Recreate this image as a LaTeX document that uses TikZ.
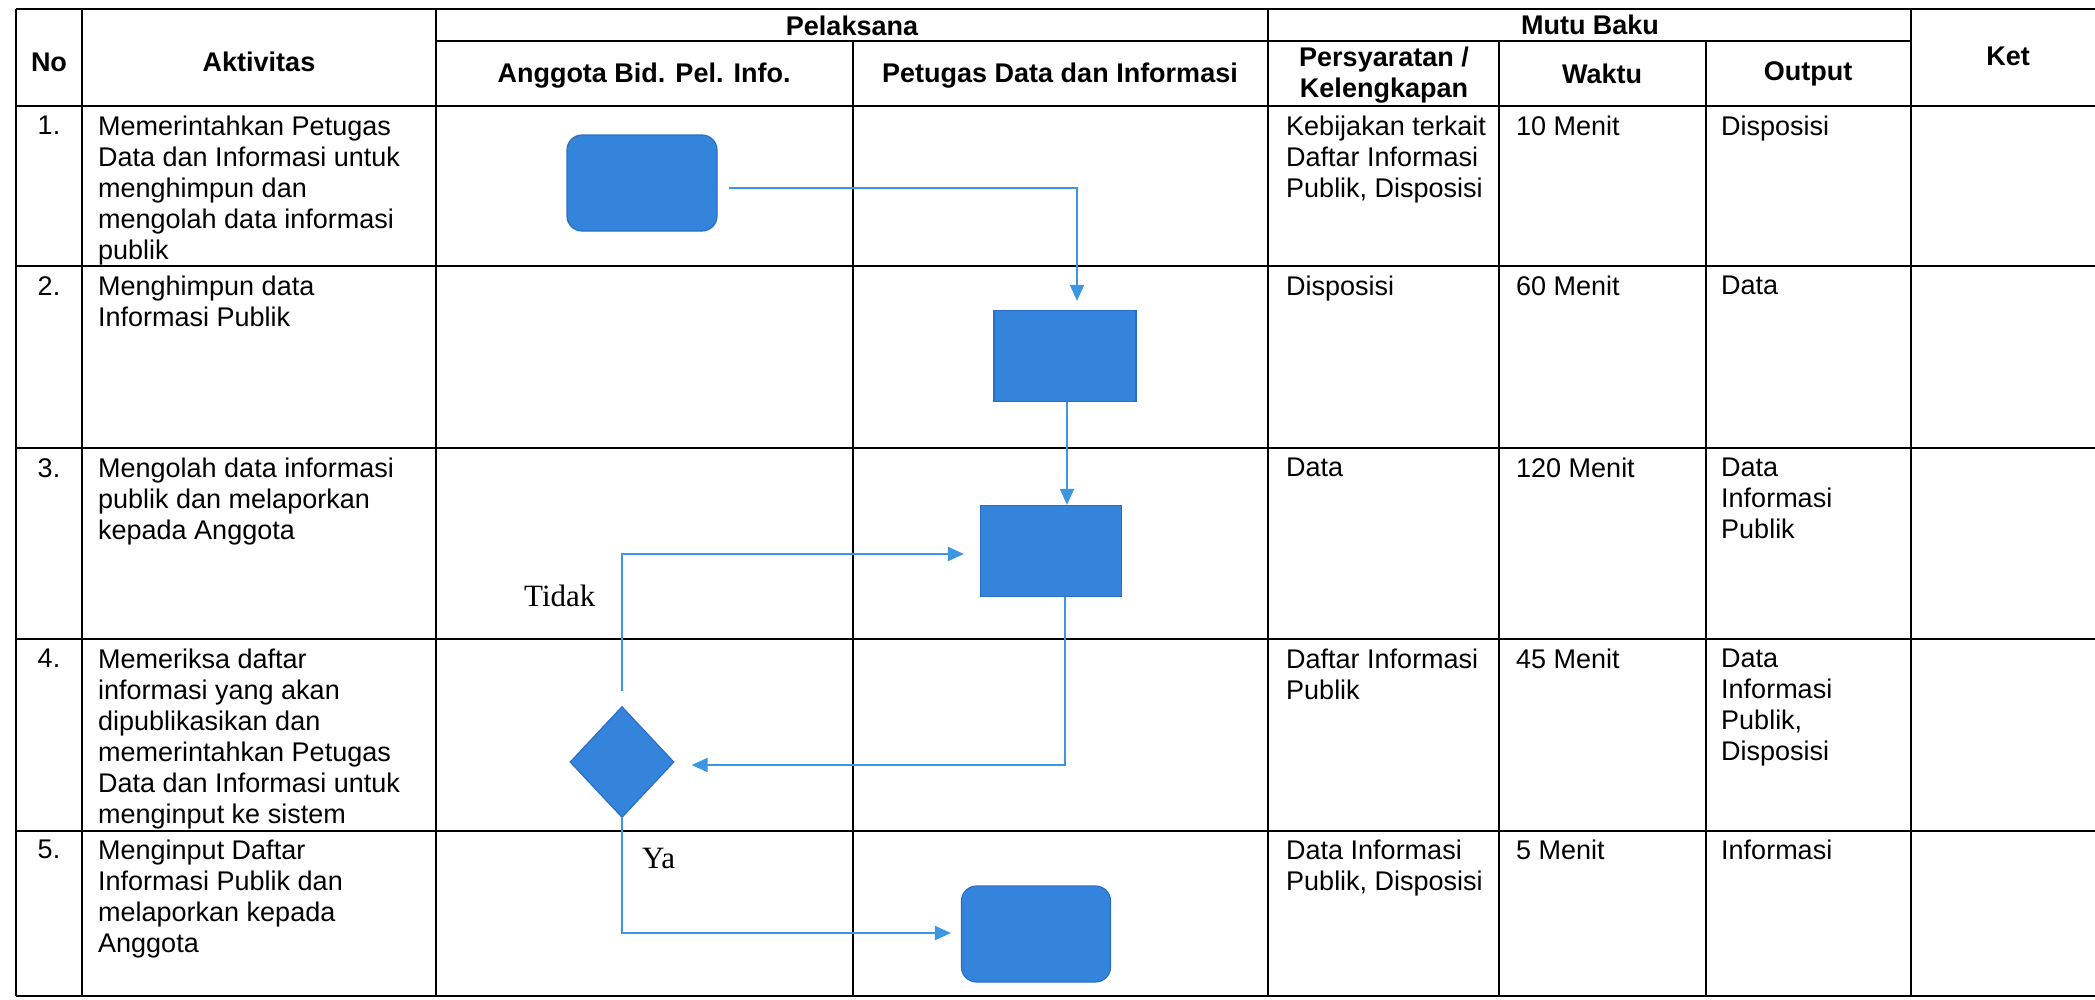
\documentclass[tikz,border=0pt]{standalone}
\usepackage{fontspec}
\setmainfont{Liberation Sans}
\newfontfamily\tnr{Liberation Serif}
\usetikzlibrary{arrows.meta,shapes.geometric}
\definecolor{shapefill}{HTML}{3384DA}
\definecolor{shapeline}{HTML}{2A6EC8}
\definecolor{arrowblue}{HTML}{3D96E2}
\tikzset{
  gridline/.style={line width=2pt, black},
  hdr/.style={font=\fontsize{27}{31}\selectfont\bfseries, align=center, inner sep=0pt},
  cell/.style={anchor=north west, align=left, inner sep=0pt, font=\fontsize{27}{31}\selectfont},
  numcell/.style={anchor=north, inner sep=0pt, font=\fontsize{27}{31}\selectfont},
  procbox/.style={rectangle, draw=shapeline, fill=shapefill, line width=1.2pt, inner sep=0pt},
  termbox/.style={procbox, rounded corners=15pt},
  decbox/.style={diamond, draw=shapeline, fill=shapefill, line width=1.2pt, inner sep=0pt, aspect=0.94},
  arr/.style={draw=arrowblue, line width=2pt, -{Triangle[length=16pt,width=14pt]}},
  lbl/.style={font=\tnr\fontsize{31}{35}\selectfont, inner sep=0pt, anchor=base west},
}
\begin{document}
\begin{tikzpicture}[x=1pt,y=-1pt]
\useasboundingbox (0,0) rectangle (2095,999);
% ---------- table grid ----------
\draw[gridline] (16,9) -- (2095,9);
\draw[gridline] (436,41) -- (1911,41);
\foreach \yy in {106,266,448,639,831,996} \draw[gridline] (16,\yy) -- (2095,\yy);
\foreach \xx in {16,82,436,1268,1911} \draw[gridline] (\xx,9) -- (\xx,996);
\foreach \xx in {853,1499,1706} \draw[gridline] (\xx,41) -- (\xx,996);
% ---------- headers ----------
\node[hdr] (hNo) at (49,62) {No};
\node[hdr] (hAkt) at (259,62) {Aktivitas};
\node[hdr] (hPel) at (852,26) {Pelaksana};
\node[hdr] (hAng) at (644,76) {Anggota Bid. Pel. Info.};
\node[hdr] (hPet) at (1060,76) {Petugas Data dan Informasi};
\node[hdr] (hMutu) at (1590,25) {Mutu Baku};
\node[hdr] (hPers) at (1384,75) {Persyaratan /\\Kelengkapan};
\node[hdr] (hWak) at (1602,74) {Waktu};
\node[hdr] (hOut) at (1808,74) {Output};
\node[hdr] (hKet) at (2008,56) {Ket};
% ---------- row 1 ----------
\node[numcell] (n1) at (49,116) {1.};
\node[cell] (a1) at (98,116) {Memerintahkan Petugas\\Data dan Informasi untuk\\menghimpun dan\\mengolah data informasi\\publik};
\node[cell] (p1) at (1286,116) {Kebijakan terkait\\Daftar Informasi\\Publik, Disposisi};
\node[cell] (w1) at (1516,116) {10 Menit};
\node[cell] (o1) at (1721,116) {Disposisi};
% ---------- row 2 ----------
\node[numcell] (n2) at (49,276) {2.};
\node[cell] (a2) at (98,276) {Menghimpun data\\Informasi Publik};
\node[cell] (p2) at (1286,276) {Disposisi};
\node[cell] (w2) at (1516,276) {60 Menit};
\node[cell] (o2) at (1721,276) {Data};
% ---------- row 3 ----------
\node[numcell] (n3) at (49,458) {3.};
\node[cell] (a3) at (98,458) {Mengolah data informasi\\publik dan melaporkan\\kepada Anggota};
\node[cell] (p3) at (1286,458) {Data};
\node[cell] (w3) at (1516,458) {120 Menit};
\node[cell] (o3) at (1721,458) {Data\\Informasi\\Publik};
% ---------- row 4 ----------
\node[numcell] (n4) at (49,649) {4.};
\node[cell] (a4) at (98,649) {Memeriksa daftar\\informasi yang akan\\dipublikasikan dan\\memerintahkan Petugas\\Data dan Informasi untuk\\menginput ke sistem};
\node[cell] (p4) at (1286,649) {Daftar Informasi\\Publik};
\node[cell] (w4) at (1516,649) {45 Menit};
\node[cell] (o4) at (1721,649) {Data\\Informasi\\Publik,\\Disposisi};
% ---------- row 5 ----------
\node[numcell] (n5) at (49,840) {5.};
\node[cell] (a5) at (98,840) {Menginput Daftar\\Informasi Publik dan\\melaporkan kepada\\Anggota};
\node[cell] (p5) at (1286,840) {Data Informasi\\Publik, Disposisi};
\node[cell] (w5) at (1516,840) {5 Menit};
\node[cell] (o5) at (1721,840) {Informasi};
% ---------- flow shapes ----------
\node[termbox, minimum width=150pt, minimum height=96pt] (b1) at (642,183) {};
\node[procbox, minimum width=142pt, minimum height=91pt] (b2) at (1065,356) {};
\node[procbox, minimum width=141pt, minimum height=91pt] (b3) at (1051,551) {};
\node[decbox, minimum width=104pt, minimum height=111pt] (d4) at (622,762) {};
\node[termbox, minimum width=149pt, minimum height=96pt] (b5) at (1036,934) {};
% ---------- connectors ----------
\draw[arr] ([xshift=11pt,yshift=-5pt]b1.east) -| ([xshift=12pt,yshift=9pt]b2.north);
\draw[arr] ([xshift=2pt]b2.south) -- ([xshift=2pt]b2.south |- b3.north);
\draw[arr] ([xshift=14pt]b3.south) |- ([xshift=17pt,yshift=-3pt]d4.east);
\draw[arr] ([yshift=15pt]d4.north) |- ([xshift=-16pt,yshift=-3pt]b3.west);
\draw[arr] (d4.south) |- ([xshift=-10pt,yshift=1pt]b5.west);
% ---------- labels ----------
\node[lbl] (tidak) at (524,606) {Tidak};
\node[lbl] (ya) at (642,868) {Ya};
\end{tikzpicture}
\end{document}
